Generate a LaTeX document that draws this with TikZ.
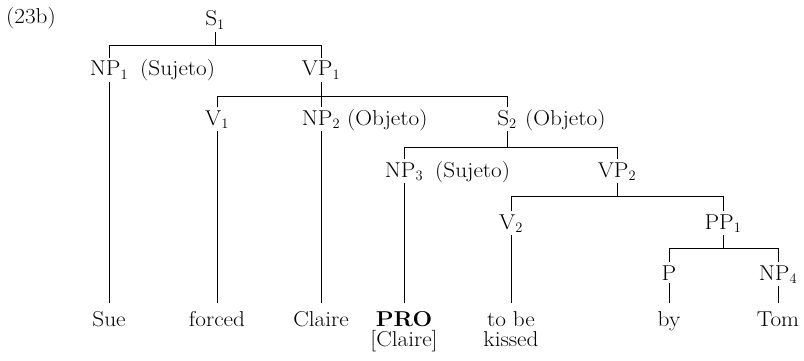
\documentclass[tikz,border=0pt]{standalone}
\usepackage{fontspec}
\setmainfont{Latin Modern Roman}[FakeStretch=1.08]
\begin{document}
\begin{tikzpicture}[x=1pt,y=-1pt,
  every node/.style={font=\fontsize{21.5}{20}\selectfont},
  cat/.style={anchor=base,inner sep=3pt},
  fn/.style={anchor=base west,inner sep=0pt},
  leaf/.style={anchor=base,inner sep=3pt,outer ysep=5pt,align=center},
  branch/.style={line width=0.9pt}]
\useasboundingbox (0,0) rectangle (804,361);
% levels of the horizontal bars
\coordinate (b1) at (0,45);
\coordinate (b2) at (0,96);
\coordinate (b3) at (0,147);
\coordinate (b4) at (0,196);
\coordinate (b5) at (0,248);
\node (ex) [fn] at (6,24) {(23b)};
% categories
\node (s1) [cat] at (215,26) {S$_1$};
\node (np1) [cat] at (109,76) {NP$_1$};
\node (np1f) [fn] at (140,76) {(Sujeto)};
\node (vp1) [cat] at (321,76) {VP$_1$};
\node (v1) [cat] at (217,125) {V$_1$};
\node (np2) [cat] at (321,125) {NP$_2$};
\node (np2f) [fn] at (347,125) {(Objeto)};
\node (s2) [cat] at (507,125) {S$_2$};
\node (s2f) [fn] at (525,125) {(Objeto)};
\node (np3) [cat] at (404,177) {NP$_3$};
\node (np3f) [fn] at (435,177) {(Sujeto)};
\node (vp2) [cat] at (617,177) {VP$_2$};
\node (v2) [cat] at (511,229) {V$_2$};
\node (pp1) [cat] at (723,229) {PP$_1$};
\node (p) [cat] at (669,280) {P};
\node (np4) [cat] at (778,280) {NP$_4$};
% words (two-line ones sit on their last line)
\node (sue) [leaf] at (109,326) {Sue};
\node (forced) [leaf] at (217,326) {forced};
\node (claire) [leaf] at (321,326) {Claire};
\node (pro) [leaf] at (404,346) {\textbf{PRO}\\{}[Claire]};
\node (tobe) [leaf] at (511,346) {to be\\kissed};
\node (by) [leaf] at (669,326) {by};
\node (tom) [leaf] at (778,326) {Tom};
% branches
\draw [branch] (s1.south) -- (s1.south |- b1);
\draw [branch] (np1.north) |- (vp1.north |- b1) -- (vp1.north);
\draw [branch] (vp1.south) -- (vp1.south |- b2);
\draw [branch] (v1.north) |- (s2.north |- b2) -- (s2.north);
\draw [branch] (np2.north) -- (np2.north |- b2);
\draw [branch] (s2.south) -- (s2.south |- b3);
\draw [branch] (np3.north) |- (vp2.north |- b3) -- (vp2.north);
\draw [branch] (vp2.south) -- (vp2.south |- b4);
\draw [branch] (v2.north) |- (pp1.north |- b4) -- (pp1.north);
\draw [branch] (pp1.south) -- (pp1.south |- b5);
\draw [branch] (p.north) |- (np4.north |- b5) -- (np4.north);
% down to the words
\draw [branch] (np1.south) -- (np1.south |- sue.north);
\draw [branch] (v1.south) -- (v1.south |- forced.north);
\draw [branch] (np2.south) -- (np2.south |- claire.north);
\draw [branch] (np3.south) -- (np3.south |- pro.north);
\draw [branch] (v2.south) -- (v2.south |- tobe.north);
\draw [branch] (p.south) -- (p.south |- by.north);
\draw [branch] (np4.south) -- (np4.south |- tom.north);
\end{tikzpicture}
\end{document}
